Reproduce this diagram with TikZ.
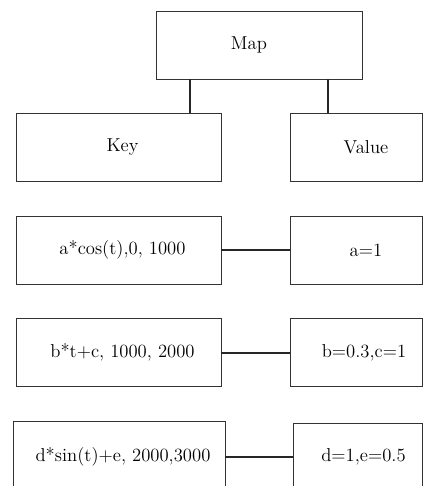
\documentclass[tikz,border=0pt]{standalone}
\usetikzlibrary{calc}
\tikzstyle{box}=[draw=black!80,line width=0.6pt,rectangle,inner sep=0pt,minimum height=51pt,font=\fontsize{14}{16}\selectfont]
\tikzstyle{keybox}=[box,minimum width=153.75pt]
\tikzstyle{valbox}=[box,minimum width=99pt]
\tikzstyle{link}=[line width=1.5pt,black!85]

\begin{document}
\begin{tikzpicture}[x=0.75pt,y=-0.75pt]
\clip (0,0) rectangle (423,486);
% top level
\node [box,minimum width=154.5pt] (map) at (259,45) {Map\hspace*{15pt}};
\node [keybox] (key) at (118.5,147) {\hspace*{6pt}Key};
\node [valbox] (value) at (356,147) {\hspace*{15pt}Value};
\coordinate (mk) at ($(map.south)+(-69,0)$);
\coordinate (mv) at ($(map.south)+(69,0)$);
\draw [link] (mk) -- (mk |- key.north);
\draw [link] (mv) -- (mv |- value.north);
% pairs
\node [keybox] (k1) at (118.5,250) {\hspace*{6pt}a*cos(t),0, 1000};
\node [valbox] (v1) at (356,250) {\hspace*{15pt}a=1};
\node [keybox] (k2) at (118.5,352.5) {\hspace*{6pt}b*t+c, 1000, 2000};
\node [valbox] (v2) at (356,352.5) {\hspace*{12pt}b=0.3,c=1};
\node [keybox,minimum width=159pt,minimum height=53pt] (k3) at (119,457) {\hspace*{6pt}d*sin(t)+e, 2000,3000};
\node [valbox,minimum width=96.75pt] (v3) at (357.5,457) {\hspace*{9pt}d=1,e=0.5};
\draw [link] (k1) -- (v1);
\draw [link] (k2) -- (v2);
\draw [link] (k3) -- (v3);
\end{tikzpicture}
\end{document}
